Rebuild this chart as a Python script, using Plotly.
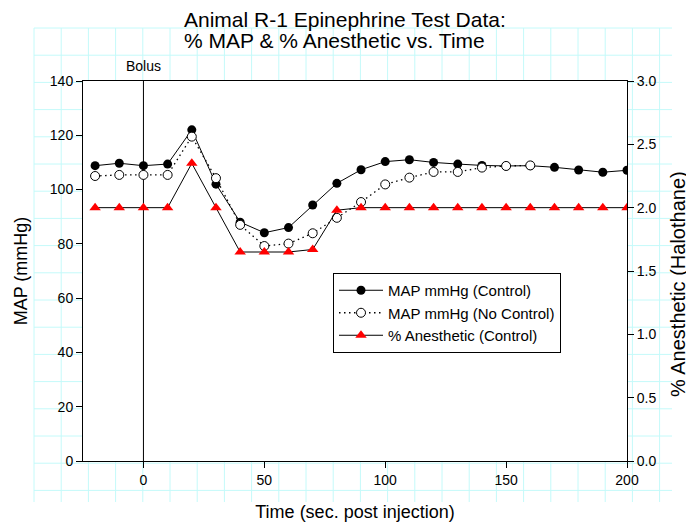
import plotly.graph_objects as go

# ---- data ----
time_control = [-20, -10, 0, 10, 20, 30, 40, 50, 60, 70, 80, 90, 100, 110, 120,
                130, 140, 150, 160, 170, 180, 190, 200]
map_control = [108.8, 109.7, 108.8, 109.4, 122.0, 102.0, 88.0, 84.1, 86.0, 94.3,
               102.3, 107.3, 110.3, 111.0, 110.0, 109.4, 108.9, 108.7, 108.8,
               108.2, 107.2, 106.4, 107.1]

time_no_control = [-20, -10, 0, 10, 20, 30, 40, 50, 60, 70, 80, 90, 100, 110,
                   120, 130, 140, 150, 160]
map_no_control = [105.0, 105.4, 105.4, 105.4, 119.5, 104.2, 87.0, 79.2, 80.1, 83.9,
                  89.6, 95.4, 101.9, 104.4, 106.5, 106.5, 108.1, 108.7, 108.9]

time_anesthetic = time_control
anesthetic_control = [2.0, 2.0, 2.0, 2.0, 2.35, 2.0, 1.65, 1.65, 1.65, 1.67, 1.98,
                      2.0, 2.0, 2.0, 2.0, 2.0, 2.0, 2.0, 2.0, 2.0, 2.0, 2.0, 2.0]

x_ticks = [0, 50, 100, 150, 200]
y_ticks = [0, 20, 40, 60, 80, 100, 120, 140]
y2_ticks = [0.0, 0.5, 1.0, 1.5, 2.0, 2.5, 3.0]

FONT = "Liberation Sans, Arial, sans-serif"
PAGE_W, PAGE_H = 694, 527
BODY = 8  # default page margin around the plot div
W, H = PAGE_W - BODY, PAGE_H - BODY
# plot-area edges in page pixels
L, R, T, B = 83, 627, 81, 461
PW, PH = R - L, B - T


def px_x(px):
    return (px - L) / PW


def px_y(py):
    return (B - py) / PH


fig = go.Figure()

fig.add_trace(go.Scatter(
    x=time_control, y=map_control, name="MAP mmHg (Control)",
    mode="lines+markers",
    line=dict(color="black", width=1),
    marker=dict(symbol="circle", size=9, color="black"),
))
fig.add_trace(go.Scatter(
    x=time_no_control, y=map_no_control, name="MAP mmHg (No Control)",
    mode="lines+markers",
    line=dict(color="black", width=1.3, dash="1.5px,3.5px"),
    marker=dict(symbol="circle", size=9, color="white",
                line=dict(color="black", width=1)),
))
fig.add_trace(go.Scatter(
    x=time_anesthetic, y=anesthetic_control, name="% Anesthetic (Control)",
    mode="lines+markers", yaxis="y2",
    line=dict(color="black", width=1),
    marker=dict(symbol="triangle-up", size=10, color="red"),
))

# ---- background graph-paper grid (outside the plot area) ----
shapes = []
grid_color = "#c4fafa"
step = 27.2
gx0, gy0 = 34, 28
nx, ny = 23, 17
for i in range(nx + 1):
    x = gx0 + i * step
    shapes.append(dict(type="line", xref="paper", yref="paper", layer="below",
                       x0=px_x(x), x1=px_x(x), y0=px_y(gy0), y1=px_y(502),
                       line=dict(color=grid_color, width=1)))
for j in range(ny + 1):
    y = gy0 + j * step
    shapes.append(dict(type="line", xref="paper", yref="paper", layer="below",
                       x0=px_x(gx0), x1=px_x(672), y0=px_y(y), y1=px_y(y),
                       line=dict(color=grid_color, width=1)))
shapes.append(dict(type="rect", xref="paper", yref="paper", layer="below",
                   x0=0, x1=1, y0=0, y1=1, fillcolor="white",
                   line=dict(width=0)))
# bolus marker line
shapes.append(dict(type="line", xref="x", yref="paper", layer="below",
                   x0=0, x1=0, y0=0, y1=1, line=dict(color="black", width=1)))

annotations = [
    dict(text="Animal R-1 Epinephrine Test Data:", xref="paper", yref="paper",
         x=px_x(182), y=px_y(19.5), xanchor="left", yanchor="middle",
         showarrow=False, font=dict(family=FONT, size=21, color="black")),
    dict(text="% MAP & % Anesthetic vs. Time", xref="paper", yref="paper",
         x=px_x(182), y=px_y(40.5), xanchor="left", yanchor="middle",
         showarrow=False, font=dict(family=FONT, size=21, color="black")),
    dict(text="Bolus", xref="x", yref="paper", x=0, y=px_y(66.5),
         xanchor="center", yanchor="middle", showarrow=False,
         font=dict(family=FONT, size=14, color="black")),
    # right axis title
    dict(text="% Anesthetic (Halothane)", xref="paper", yref="paper",
         x=px_x(678), y=px_y(284), xanchor="center", yanchor="middle",
         textangle=-90, showarrow=False,
         font=dict(family=FONT, size=20, color="black")),
]

axis_common = dict(showgrid=False, zeroline=False, showline=True,
                   linecolor="black", linewidth=1, ticks="outside", ticklen=6,
                   tickwidth=1, tickcolor="black",
                   tickfont=dict(family=FONT, size=14, color="black"))

fig.update_layout(
    width=W, height=H,
    margin=dict(l=L - BODY, r=PAGE_W - R, t=T - BODY, b=PAGE_H - B,
                autoexpand=False),
    paper_bgcolor="white", plot_bgcolor="white",
    font=dict(family=FONT, color="black"),
    xaxis=dict(range=[-25, 200], tickvals=x_ticks, mirror=True,
               title=dict(text="Time (sec. post injection)", standoff=18,
                          font=dict(family=FONT, size=18, color="black")),
               **axis_common),
    yaxis=dict(range=[0, 140], tickvals=y_ticks,
               title=dict(text="MAP (mmHg)", standoff=17,
                          font=dict(family=FONT, size=18, color="black")),
               **axis_common),
    yaxis2=dict(range=[0, 3], tickvals=y2_ticks, tickformat=".1f",
                overlaying="y", side="right", **axis_common),
    legend=dict(x=px_x(333), y=px_y(273), xanchor="left", yanchor="top",
                bgcolor="white", bordercolor="black", borderwidth=1,
                font=dict(family=FONT, size=15, color="black"),
                itemwidth=44, tracegroupgap=0),
    shapes=shapes,
    annotations=annotations,
    showlegend=True,
)

fig.write_html("out.html")
